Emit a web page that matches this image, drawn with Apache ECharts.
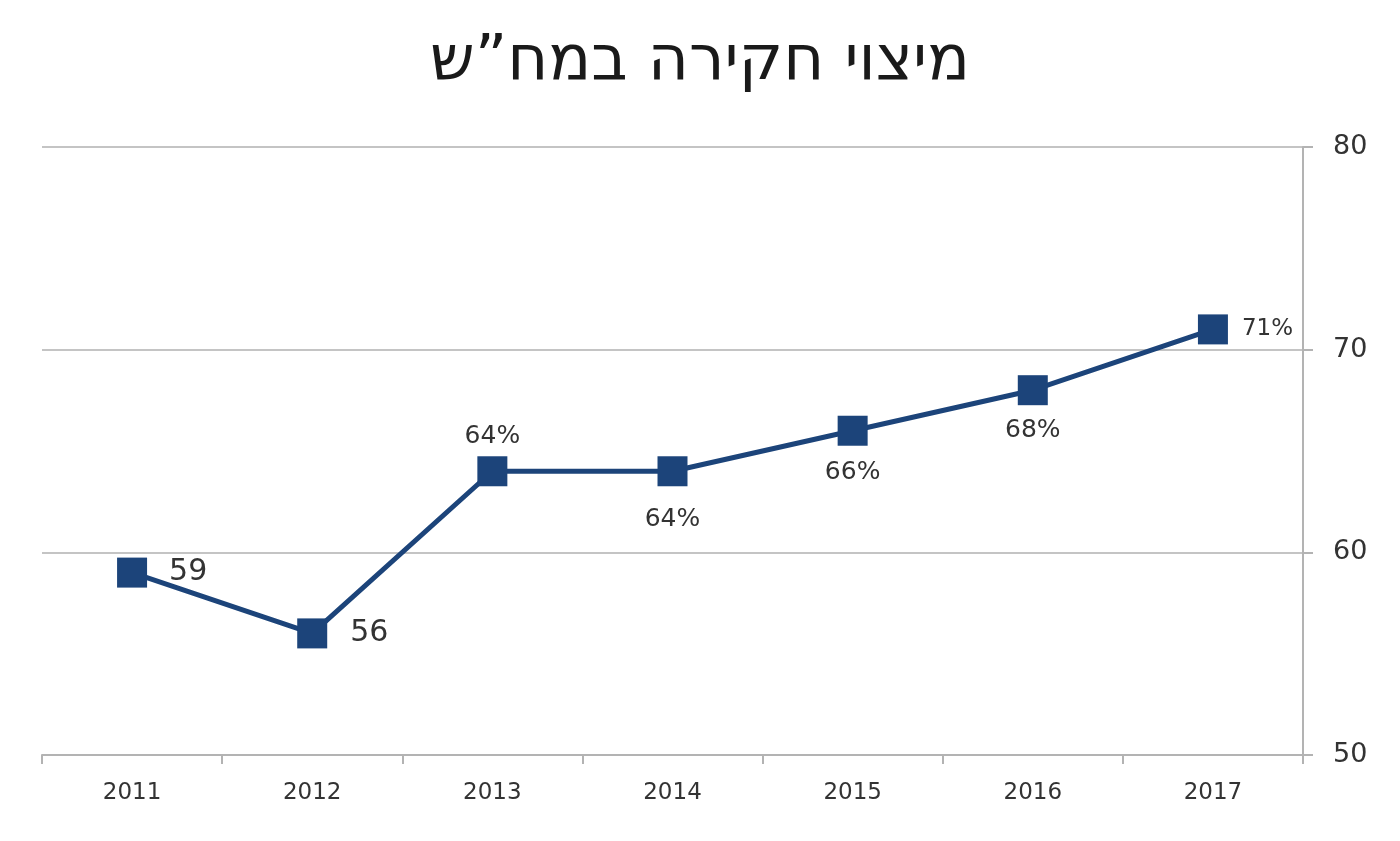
<!DOCTYPE html>
<html><head><meta charset="utf-8">
<script src="https://cdn.jsdelivr.net/npm/echarts@6/dist/echarts.min.js"></script>
<style>html,body{margin:0;padding:0;background:#fff}#c{width:1400px;height:841px}</style>
</head><body><div id="c"></div>
<script>
const titleText = 'מיצוי חקירה במח”ש';
const years = ['2011','2012','2013','2014','2015','2016','2017'];
const values = [59, 56, 64, 64, 66, 68, 71];
const labelTexts = ['59','56','64%','64%','66%','68%','71%'];
const labelPositions = ['right','right','top','bottom','bottom','bottom','right'];
const yTicks = [50, 60, 70, 80];

const labelSizes = [30,30,25,25,25,25,23];
const labelDistances = [22,23,7,21,14,13,14];

const chart = echarts.init(document.getElementById('c'));
chart.setOption({
  animation: false,
  title: { text: titleText, left: 'center', top: 26,
    textStyle: { fontFamily: 'DejaVu Sans', fontSize: 63, fontWeight: 'normal', color: '#1a1a1a' } },
  grid: { left: 42, right: 97, top: 147, bottom: 86 },
  xAxis: { type: 'category', data: years, boundaryGap: true,
    axisLine: { lineStyle: { color: '#b3b3b3', width: 2 } },
    axisTick: { show: true, length: 9, lineStyle: { color: '#b3b3b3', width: 2 } },
    axisLabel: { fontFamily: 'DejaVu Sans', fontSize: 23, color: '#333', margin: 27 } },
  yAxis: { type: 'value', position: 'right', min: yTicks[0], max: yTicks[yTicks.length-1], interval: 10,
    axisLine: { show: true, lineStyle: { color: '#b3b3b3', width: 2 } },
    axisTick: { show: true, length: 10, lineStyle: { color: '#b3b3b3', width: 2 } },
    splitLine: { lineStyle: { color: '#c4c4c4', width: 2 } },
    axisLabel: { fontFamily: 'DejaVu Sans', fontSize: 27, color: '#333', margin: 30 } },
  series: [{
    type: 'line',
    data: values.map((v, i) => ({
      value: v,
      label: { show: true, formatter: labelTexts[i], position: labelPositions[i],
        fontSize: labelSizes[i], distance: labelDistances[i] }
    })),
    symbol: 'rect', symbolSize: 30,
    lineStyle: { color: '#1c447a', width: 5 },
    itemStyle: { color: '#1c447a' },
    label: { fontFamily: 'DejaVu Sans', color: '#333' }
  }]
});
</script></body></html>
